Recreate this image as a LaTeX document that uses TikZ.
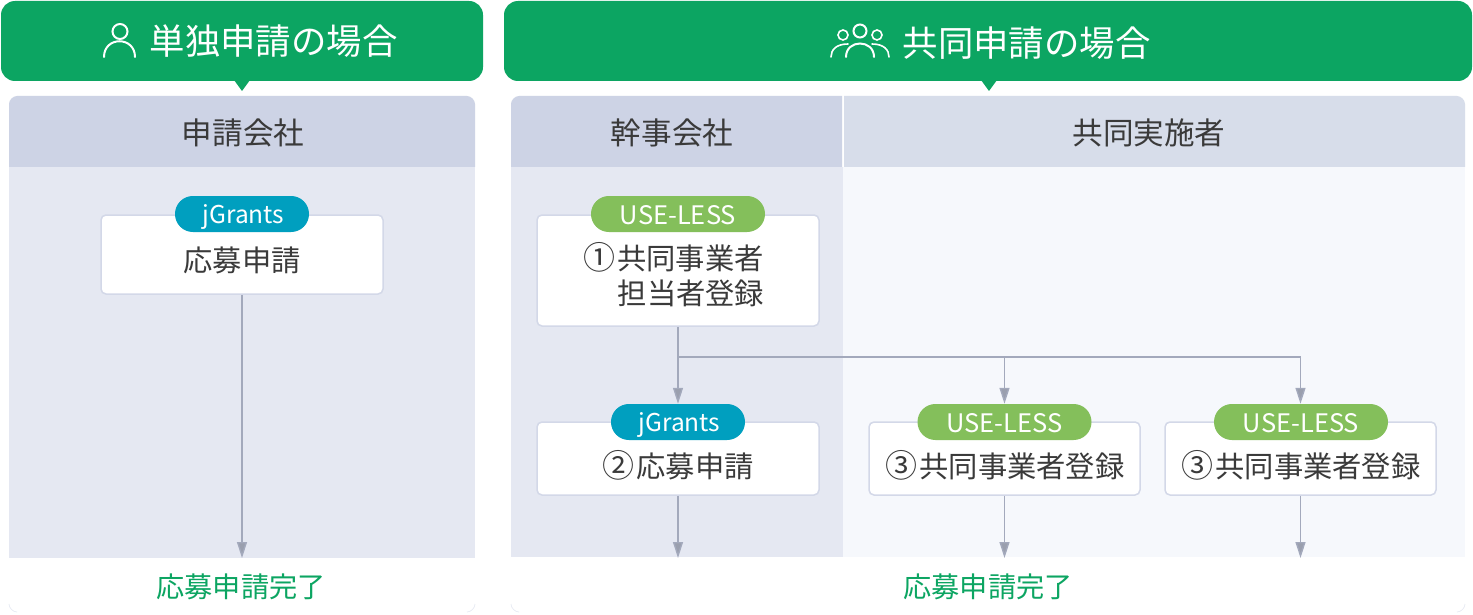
\documentclass[tikz,border=0pt]{standalone}
\usepackage{fontspec}
\setmainfont{Noto Sans CJK JP}
\usetikzlibrary{arrows.meta}
\definecolor{gbanner}{HTML}{0CA562}
\definecolor{headA}{HTML}{CDD3E5}
\definecolor{bodyA}{HTML}{E5E8F2}
\definecolor{headB}{HTML}{D7DDEA}
\definecolor{bodyB}{HTML}{F6F8FC}
\definecolor{boxline}{HTML}{D3D8E8}
\definecolor{tagblue}{HTML}{009FBF}
\definecolor{taggreen}{HTML}{84BF5B}
\definecolor{ink}{HTML}{3A3A3A}
\definecolor{flow}{HTML}{A3A9BC}
\definecolor{tip}{HTML}{9A9FAE}
\newcommand{\circnum}[1]{{\fontsize{32}{32}\selectfont #1}}
\newcommand{\taglabel}[1]{\raisebox{0pt}[20pt][0pt]{#1}}
\newcommand{\jglabel}[1]{\kern3pt\raisebox{0pt}[18pt][0pt]{\fontsize{24.5}{24.5}\selectfont #1}}
\tikzset{
 x=1pt,y=-1pt,
 bannertext/.style={text=white,font=\fontsize{35.4}{35.4}\selectfont,inner sep=0pt},
 headtext/.style={text=ink,font=\fontsize{30.6}{30.6}\selectfont,inner sep=0pt},
 boxtext/.style={text=ink,font=\fontsize{29.3}{29.3}\selectfont,inner sep=0pt},
 donetext/.style={text=gbanner,font=\fontsize{28.2}{28.2}\selectfont,inner sep=0pt},
 flowbox/.style={draw=boxline,line width=1.5pt,fill=white,rounded corners=5pt,inner sep=0pt},
 tag/.style={rounded corners=17.9pt,inner sep=0pt,minimum height=36pt,text=white,font=\fontsize{25.5}{25.5}\selectfont},
 flowline/.style={draw=flow,line width=1.4pt},
 flowarrow/.style={flowline,-{Triangle[length=16pt,width=10pt,fill=tip]}},
 icon/.style={draw=white,line width=2pt,line cap=round},
}
\begin{document}
\begin{tikzpicture}
\useasboundingbox (0,0) rectangle (1473,615);
% panels
\fill[white] (0,0) rectangle (1473,615);
\fill[bodyA] (9,167) rectangle (475,558);
\fill[headA] (9,167) -- (9,104) .. controls (9,100) and (13,96) .. (17,96) -- (467,96) .. controls (471,96) and (475,100) .. (475,104) -- (475,167) -- cycle;
\fill[bodyA] (511,167) rectangle (843,557);
\fill[bodyB] (843,167) rectangle (1465,557);
\fill[headA] (511,167) -- (511,104) .. controls (511,100) and (515,96) .. (519,96) -- (842,96) -- (842,167) -- cycle;
\fill[headB] (844,167) -- (844,96) -- (1457,96) .. controls (1461,96) and (1465,100) .. (1465,104) -- (1465,167) -- cycle;
% faint bottom corners
\draw[bodyA,line width=.6pt] (9,604) .. controls (9,608) and (13,612) .. (17,612);
\draw[bodyA,line width=.6pt] (467,612) .. controls (471,612) and (475,608) .. (475,604);
\draw[bodyA,line width=.6pt] (511,604) .. controls (511,608) and (515,612) .. (519,612);
\draw[bodyA,line width=.6pt] (1457,612) .. controls (1461,612) and (1465,608) .. (1465,604);
% banners
\fill[gbanner,rounded corners=14pt] (1,1) rectangle (483,81);
\fill[gbanner] (234,80) -- (250,80) -- (242,91) -- cycle;
\fill[gbanner,rounded corners=14pt] (504,1) rectangle (1472,81);
\fill[gbanner] (981,80) -- (997,80) -- (989,91) -- cycle;
% icons
\draw[icon] (120,31.5) circle[radius=7.5];
\draw[icon] (104,57) .. controls (104,36) and (135,36) .. (135,57);
\draw[icon] (860,31) circle[radius=6.5];
\draw[icon] (846,57) .. controls (846,39) and (874,39) .. (874,57);
\draw[icon,line width=1.6pt] (843,35) circle[radius=5];
\draw[icon,line width=1.6pt] (877,35) circle[radius=5];
\draw[icon,line width=1.6pt] (831,57) .. controls (831,50) and (836,44) .. (848,44);
\draw[icon,line width=1.6pt] (889,57) .. controls (889,50) and (884,44) .. (872,44);
% texts
\node[bannertext] (t1) at (273.5,41) {単独申請の場合};
\node[bannertext] (t2) at (1026.5,43) {共同申請の場合};
\node[headtext] (h1) at (243,133) {申請会社};
\node[headtext] (h2) at (672,133) {幹事会社};
\node[headtext] (h3) at (1149,133) {共同実施者};
% boxes
\node[flowbox,minimum width=282pt,minimum height=79pt] (a) at (242,254.5) {};
\node[flowbox,minimum width=282pt,minimum height=111pt] (b1) at (678,270.5) {};
\node[flowbox,minimum width=282pt,minimum height=73pt] (b2) at (678,458.5) {};
\node[flowbox,minimum width=271pt,minimum height=73pt] (c1) at (1004.5,458.5) {};
\node[flowbox,minimum width=271pt,minimum height=73pt] (c2) at (1300.5,458.5) {};
\node[tag,fill=tagblue,minimum width=134pt] (ta) at (242,214) {\jglabel{jGrants}};
\node[tag,fill=taggreen,minimum width=174pt] (tb1) at (678,214) {\taglabel{USE-LESS}};
\node[tag,fill=tagblue,minimum width=134pt] (tb2) at (678,422) {\jglabel{jGrants}};
\node[tag,fill=taggreen,minimum width=174pt] (tc1) at (1004.5,422) {\taglabel{USE-LESS}};
\node[tag,fill=taggreen,minimum width=174pt] (tc2) at (1301,422) {\taglabel{USE-LESS}};
\node[boxtext] (la) at (242,260.5) {応募申請};
\node[boxtext,anchor=west] (lb1) at (583,257.5) {\circnum{①}\kern2pt 共同事業者};
\node[boxtext,anchor=west] (lb1b) at (617.5,293.5) {担当者登録};
\node[boxtext] (lb2) at (678,465) {\circnum{②}\kern2pt 応募申請};
\node[boxtext] (lc1) at (1005,465) {\circnum{③}\kern2pt 共同事業者登録};
\node[boxtext] (lc2) at (1301,465) {\circnum{③}\kern2pt 共同事業者登録};
\node[donetext] (d1) at (241,587) {応募申請完了};
\node[donetext] (d2) at (988,587) {応募申請完了};
% connectors
\coordinate (ea) at (242,558);
\coordinate (eb) at (678,558);
\coordinate (ec1) at (1004.5,558);
\coordinate (ec2) at (1300.5,558);
\coordinate (fork) at (678,357);
\coordinate (fc1) at (1004.5,357);
\coordinate (fc2) at (1300.5,357);
\draw[flowarrow] (a.south) -- (ea);
\draw[flowarrow] (b1.south) -- (tb2.north);
\draw[flowline] (fork) -- (fc2);
\draw[flowarrow] (fc1) -- (tc1.north);
\draw[flowarrow] (fc2) -- (tc2.north -| fc2);
\draw[flowarrow] (b2.south) -- (eb);
\draw[flowarrow] (c1.south) -- (ec1);
\draw[flowarrow] (c2.south) -- (ec2);
\end{tikzpicture}
\end{document}
